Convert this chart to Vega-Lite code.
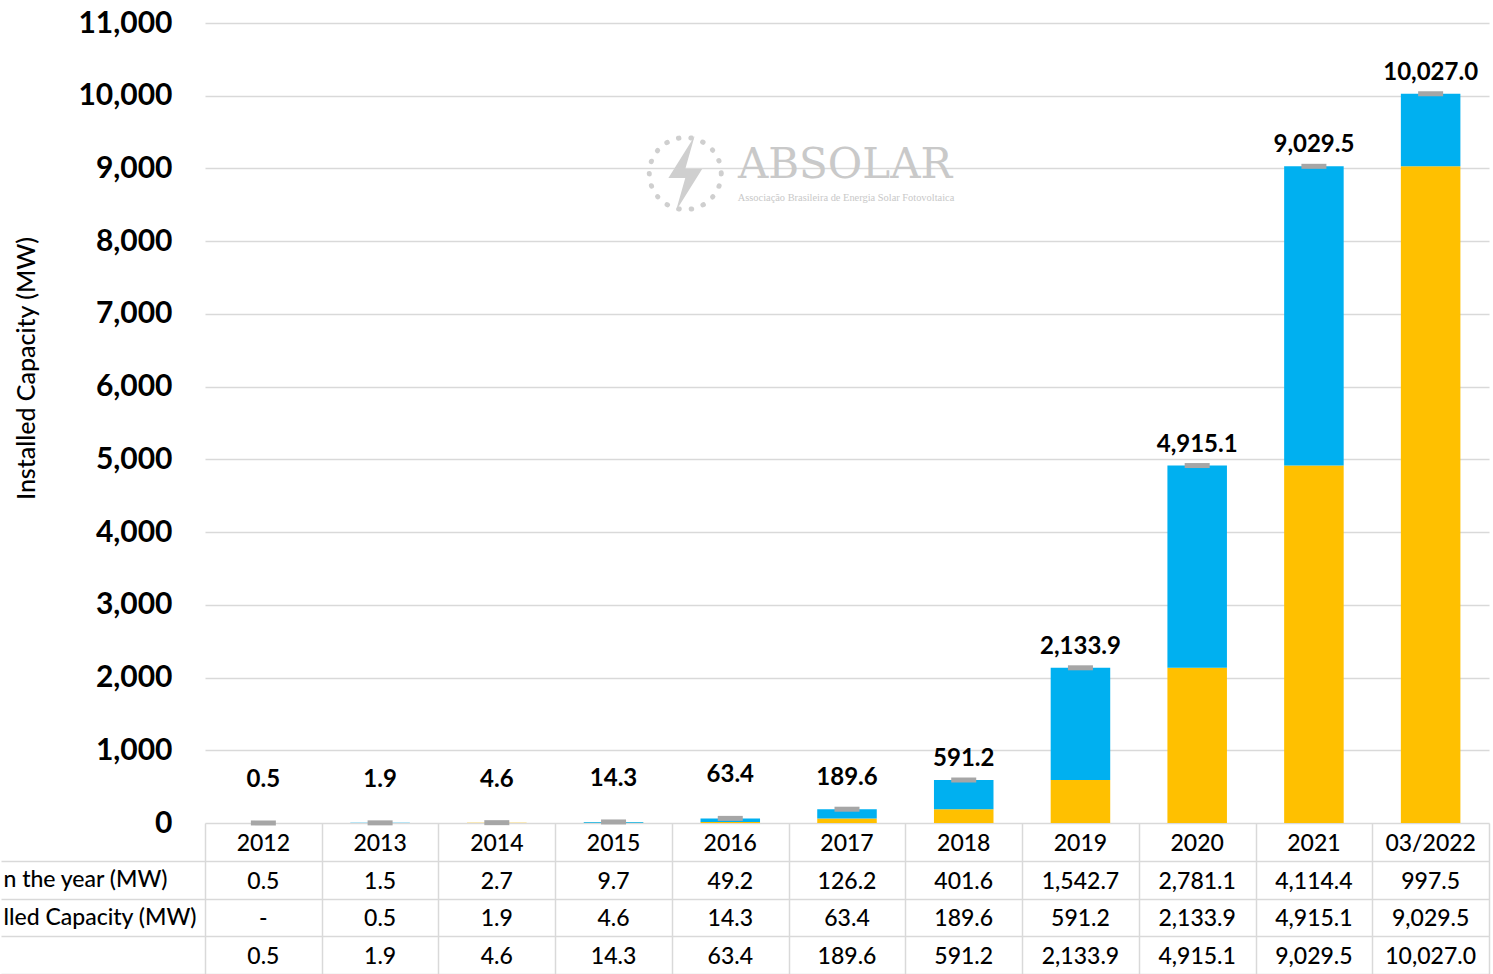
{
  "$schema": "https://vega.github.io/schema/vega-lite/v6.json",
  "padding": {"left": 0, "top": 8, "right": 5, "bottom": 0},
  "background": "white",
  "spacing": 0,
  "bounds": "flush",
  "config": {"view": {"stroke": null}, "font": "Lato"},
  "data": {"values": [
    {"year": "2012", "added": 0.5, "previous": null, "total": 0.5},
    {"year": "2013", "added": 1.5, "previous": 0.5, "total": 1.9},
    {"year": "2014", "added": 2.7, "previous": 1.9, "total": 4.6},
    {"year": "2015", "added": 9.7, "previous": 4.6, "total": 14.3},
    {"year": "2016", "added": 49.2, "previous": 14.3, "total": 63.4},
    {"year": "2017", "added": 126.2, "previous": 63.4, "total": 189.6},
    {"year": "2018", "added": 401.6, "previous": 189.6, "total": 591.2},
    {"year": "2019", "added": 1542.7, "previous": 591.2, "total": 2133.9},
    {"year": "2020", "added": 2781.1, "previous": 2133.9, "total": 4915.1},
    {"year": "2021", "added": 4114.4, "previous": 4915.1, "total": 9029.5},
    {"year": "03/2022", "added": 997.5, "previous": 9029.5, "total": 10027.0}
  ]},
  "vconcat": [
    {
      "width": 1284,
      "height": 800,
      "encoding": {
        "x": {"field": "year", "type": "nominal", "sort": null,
          "scale": {"domain": ["2012","2013","2014","2015","2016","2017","2018","2019","2020","2021","03/2022"], "paddingInner": 0, "paddingOuter": 0},
          "axis": null}
      },
      "layer": [
        {
          "transform": [{"fold": ["previous", "added"], "as": ["series", "mw"]}],
          "mark": {"type": "bar", "width": {"band": 0.51}},
          "encoding": {
            "y": {"field": "mw", "type": "quantitative", "stack": "zero",
              "scale": {"domain": [0, 11000], "nice": false},
              "axis": {
                "values": [0,1000,2000,3000,4000,5000,6000,7000,8000,9000,10000,11000],
                "format": ",.0f", "labelFontSize": 30, "labelFontWeight": "bold", "labelColor": "#000000", "labelFont": "Lato",
                "labelPadding": 33, "ticks": false, "domain": false, "grid": true, "gridColor": "#d9d9d9", "gridWidth": 1.5,
                "title": "Installed Capacity (MW)", "titleFont": "Lato", "titleFontSize": 25, "titleFontWeight": 500, "titleColor": "#000000",
                "titleX": -179, "titleY": 345, "titleAngle": -90, "titleAlign": "center", "titleBaseline": "middle"
              }},
            "color": {"field": "series", "type": "nominal",
              "scale": {"domain": ["previous", "added"], "range": ["#FFC000", "#00B0F0"]}, "legend": null},
            "order": {"field": "series", "sort": "descending"}
          }
        },
        {
          "mark": {"type": "tick", "color": "#A6A6A6", "size": 25, "thickness": 5, "opacity": 1},
          "encoding": {"y": {"field": "total", "type": "quantitative"}}
        },
        {
          "transform": [{"filter": "datum.total >= 500"}],
          "mark": {"type": "text", "fontSize": 24, "fontWeight": "bold", "color": "#000000", "baseline": "alphabetic", "dy": -14},
          "encoding": {"y": {"field": "total", "type": "quantitative"}, "text": {"field": "total", "type": "quantitative", "format": ",.1f"}}
        },
        {
          "transform": [{"filter": "datum.total >= 100 && datum.total < 500"}],
          "mark": {"type": "text", "fontSize": 24, "fontWeight": "bold", "color": "#000000", "baseline": "alphabetic", "dy": -24},
          "encoding": {"y": {"field": "total", "type": "quantitative"}, "text": {"field": "total", "type": "quantitative", "format": ",.1f"}}
        },
        {
          "transform": [{"filter": "datum.total < 100"}],
          "mark": {"type": "text", "fontSize": 24, "fontWeight": "bold", "color": "#000000", "baseline": "alphabetic", "dy": -36},
          "encoding": {"y": {"field": "total", "type": "quantitative"}, "text": {"field": "total", "type": "quantitative", "format": ",.1f"}}
        },
        {
          "data": {"values": [{}]},
          "mark": {"type": "point", "shape": "circle", "filled": false, "size": 5184, "color": "#cfcfcf", "opacity": 1, "strokeWidth": 5, "strokeDash": [0.5, 12], "strokeCap": "round", "xOffset": -45},
          "encoding": {"x": {"datum": "2016", "type": "nominal", "axis": null}, "y": {"datum": 8930, "type": "quantitative"}}
        },
        {
          "data": {"values": [{}]},
          "mark": {"type": "point", "shape": "M0.25,-1L-0.45,0.12L0,0.12L-0.25,1L0.45,-0.12L0,-0.12Z", "filled": true, "size": 5625, "color": "#cfcfcf", "opacity": 1, "strokeWidth": 0, "xOffset": -45},
          "encoding": {"x": {"datum": "2016", "type": "nominal", "axis": null}, "y": {"datum": 8930, "type": "quantitative"}}
        },
        {
          "data": {"values": [{}]},
          "mark": {"type": "text", "text": "ABSOLAR", "font": "DejaVu Serif", "fontSize": 42, "color": "#c9c9c9", "align": "center", "baseline": "middle", "dx": -2, "dy": -3},
          "encoding": {"x": {"datum": "2017", "type": "nominal", "axis": null}, "y": {"datum": 9000, "type": "quantitative"}}
        },
        {
          "data": {"values": [{}]},
          "mark": {"type": "text", "text": "Associação Brasileira de Energia Solar Fotovoltaica", "font": "Liberation Serif", "fontSize": 10.4, "color": "#c8c8c8", "align": "center", "baseline": "middle", "dx": -1},
          "encoding": {"x": {"datum": "2017", "type": "nominal", "axis": null}, "y": {"datum": 8600, "type": "quantitative"}}
        }
      ]
    },
    {
      "width": 1284,
      "height": 151,
      "encoding": {
        "x": {"field": "year", "type": "nominal", "sort": null,
          "scale": {"domain": ["2012","2013","2014","2015","2016","2017","2018","2019","2020","2021","03/2022"], "paddingInner": 0, "paddingOuter": 0},
          "axis": {"labels": false, "ticks": false, "domain": false, "grid": true, "tickBand": "extent", "gridColor": "#d9d9d9", "gridWidth": 1.5, "title": null}}
      },
      "layer": [
        {
          "mark": {"type": "text", "fontSize": 23, "fontWeight": 500, "color": "#000000", "font": "Lato", "dy": 2},
          "encoding": {
            "y": {"datum": "yr", "type": "nominal",
              "scale": {"domain": ["yr", "added", "previous", "total"], "paddingInner": 0, "paddingOuter": 0},
              "axis": {
                "title": null, "domain": false, "grid": true, "gridColor": "#d9d9d9", "gridWidth": 1.5,
                "ticks": true, "tickSize": 204, "tickColor": "#d9d9d9", "tickWidth": 1.5,
                "tickOffset": 18.875, "labelOffset": -18.875,
                "labelAlign": "left", "labelPadding": -2, "labelLimit": 0, "labelFontSize": 23, "labelFontWeight": 500, "labelColor": "#000000", "labelFont": "Lato",
                "labelExpr": "datum.value === 'added' ? 'n the year (MW)' : datum.value === 'previous' ? 'lled Capacity (MW)' : ''"
              }},
            "text": {"field": "year", "type": "nominal"}
          }
        },
        {
          "transform": [{"fold": ["added", "previous", "total"], "as": ["row", "val"]}],
          "mark": {"type": "text", "fontSize": 23, "fontWeight": 500, "color": "#000000", "font": "Lato", "dy": 2},
          "encoding": {
            "y": {"field": "row", "type": "nominal"},
            "text": {"condition": {"test": "datum.val === null", "value": "-"}, "field": "val", "type": "quantitative", "format": ",.1f"}
          }
        }
      ]
    }
  ]
}
